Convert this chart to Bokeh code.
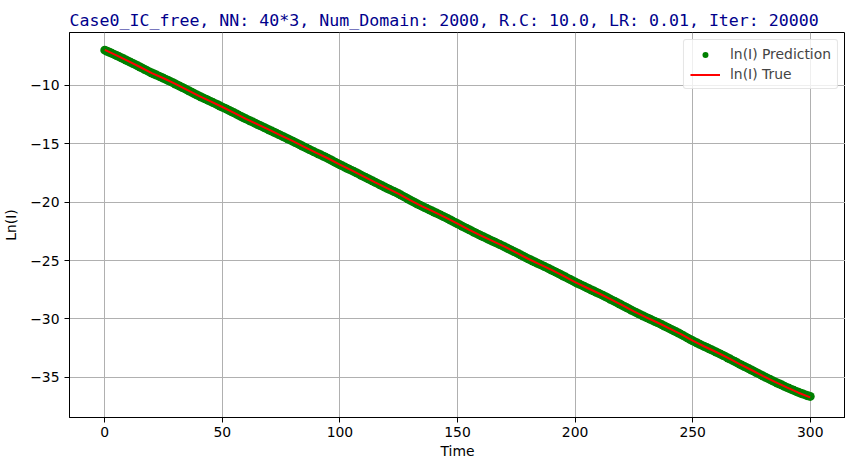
import numpy as np
from bokeh.plotting import figure
from bokeh.models import (ColumnDataSource, Range1d, Legend, LegendItem,
                          FixedTicker, CustomJSTickFormatter)
from bokeh.embed import file_html
from bokeh.resources import INLINE

title_text = "Case0_IC_free, NN: 40*3, Num_Domain: 2000, R.C: 10.0, LR: 0.01, Iter: 20000"

# True ln(I), sampled every 5 time units from 0 to 300
true_time = np.arange(0, 301, 5)
true_lnI = [
    -7.00, -7.47, -7.95, -8.46, -8.98, -9.42, -9.90, -10.42, -10.93, -11.40,
    -11.88, -12.38, -12.90, -13.36, -13.84, -14.32, -14.80, -15.30, -15.80, -16.28,
    -16.80, -17.30, -17.80, -18.32, -18.82, -19.30, -19.86, -20.38, -20.85, -21.33,
    -21.85, -22.38, -22.88, -23.35, -23.82, -24.33, -24.85, -25.33, -25.80, -26.32,
    -26.85, -27.33, -27.80, -28.30, -28.82, -29.35, -29.84, -30.30, -30.80, -31.30,
    -31.85, -32.35, -32.82, -33.32, -33.85, -34.36, -34.88, -35.38, -35.85, -36.30,
    -36.70,
]

# Predicted ln(I), every time unit from 0 to 300
pred_time = np.arange(0, 301, 1)
pred_lnI = [
    -7.02, -7.11, -7.20, -7.29, -7.38, -7.48, -7.57, -7.67, -7.76, -7.86,
    -7.96, -8.06, -8.16, -8.26, -8.36, -8.46, -8.56, -8.67, -8.77, -8.88,
    -8.97, -9.06, -9.15, -9.24, -9.33, -9.43, -9.52, -9.61, -9.71, -9.80,
    -9.91, -10.01, -10.11, -10.21, -10.31, -10.42, -10.52, -10.62, -10.73, -10.83,
    -10.93, -11.02, -11.12, -11.21, -11.31, -11.40, -11.50, -11.59, -11.69, -11.79,
    -11.89, -11.98, -12.08, -12.18, -12.28, -12.38, -12.48, -12.59, -12.69, -12.80,
    -12.89, -12.98, -13.08, -13.17, -13.27, -13.37, -13.46, -13.56, -13.65, -13.75,
    -13.85, -13.94, -14.04, -14.13, -14.23, -14.33, -14.42, -14.52, -14.61, -14.71,
    -14.81, -14.91, -15.01, -15.11, -15.21, -15.31, -15.41, -15.51, -15.61, -15.71,
    -15.80, -15.90, -15.99, -16.09, -16.18, -16.29, -16.39, -16.50, -16.60, -16.71,
    -16.81, -16.91, -17.01, -17.11, -17.21, -17.30, -17.40, -17.50, -17.60, -17.71,
    -17.81, -17.91, -18.01, -18.11, -18.21, -18.31, -18.41, -18.52, -18.62, -18.72,
    -18.82, -18.91, -19.01, -19.10, -19.20, -19.30, -19.41, -19.52, -19.63, -19.74,
    -19.85, -19.96, -20.06, -20.17, -20.27, -20.37, -20.47, -20.56, -20.66, -20.75,
    -20.85, -20.94, -21.04, -21.14, -21.24, -21.34, -21.44, -21.54, -21.65, -21.75,
    -21.86, -21.96, -22.07, -22.17, -22.27, -22.37, -22.47, -22.58, -22.68, -22.78,
    -22.88, -22.97, -23.07, -23.16, -23.26, -23.35, -23.44, -23.54, -23.63, -23.73,
    -23.83, -23.93, -24.03, -24.13, -24.23, -24.33, -24.43, -24.54, -24.64, -24.75,
    -24.85, -24.94, -25.04, -25.13, -25.23, -25.33, -25.42, -25.52, -25.61, -25.71,
    -25.81, -25.91, -26.01, -26.11, -26.22, -26.32, -26.42, -26.53, -26.63, -26.74,
    -26.84, -26.94, -27.04, -27.13, -27.23, -27.33, -27.42, -27.52, -27.61, -27.71,
    -27.80, -27.90, -28.00, -28.10, -28.20, -28.31, -28.41, -28.51, -28.62, -28.72,
    -28.83, -28.93, -29.04, -29.14, -29.25, -29.35, -29.45, -29.55, -29.65, -29.74,
    -29.84, -29.93, -30.02, -30.12, -30.21, -30.30, -30.40, -30.50, -30.60, -30.70,
    -30.80, -30.90, -31.00, -31.10, -31.20, -31.31, -31.42, -31.53, -31.64, -31.75,
    -31.86, -31.96, -32.06, -32.16, -32.26, -32.35, -32.44, -32.54, -32.63, -32.73,
    -32.82, -32.92, -33.02, -33.12, -33.22, -33.33, -33.43, -33.54, -33.64, -33.75,
    -33.86, -33.96, -34.06, -34.16, -34.26, -34.36, -34.46, -34.57, -34.67, -34.78,
    -34.88, -34.98, -35.08, -35.18, -35.28, -35.38, -35.47, -35.56, -35.65, -35.75,
    -35.85, -35.93, -36.02, -36.10, -36.19, -36.27, -36.35, -36.42, -36.49, -36.56,
    -36.62,
]

x_ticks = [0, 50, 100, 150, 200, 250, 300]
y_ticks = [-35, -30, -25, -20, -15, -10]

FONT = "DejaVu Sans"

p = figure(width=845, height=461, output_backend="svg", toolbar_location=None,
           x_range=Range1d(-15, 315), y_range=Range1d(-38.42, -5.51),
           min_border_left=61, min_border_right=0, min_border_top=25,
           min_border_bottom=40)

p.title.text = title_text
p.title.text_font = "DejaVu Sans Mono"
p.title.text_font_size = "16.6px"
p.title.text_font_style = "normal"
p.title.text_color = "#00008B"
p.title.align = "left"
p.title.offset = 0
p.title.standoff = 6
p.title.padding = dict(left=0, right=0, top=5, bottom=0)

p.outline_line_color = "black"
p.outline_line_width = 1
p.outline_line_alpha = 1

for ax in (p.xaxis[0], p.yaxis[0]):
    ax.axis_line_color = "black"
    ax.major_tick_line_color = "black"
    ax.major_tick_out = 5
    ax.major_tick_in = 0
    ax.minor_tick_line_color = None
    ax.major_label_text_font = FONT
    ax.major_label_text_font_size = "13.9px"
    ax.major_label_text_color = "black"
    ax.axis_label_text_font = FONT
    ax.axis_label_text_font_size = "13.9px"
    ax.axis_label_text_font_style = "normal"
    ax.axis_label_text_color = "black"

p.xaxis.major_label_standoff = 4
p.yaxis.major_label_standoff = 5
p.xaxis.ticker = FixedTicker(ticks=x_ticks)
p.yaxis.ticker = FixedTicker(ticks=y_ticks)
p.yaxis.formatter = CustomJSTickFormatter(code="return tick.toString().replace('-', '\u2212');")
p.xaxis.axis_label = "Time"
p.yaxis.axis_label = "Ln(I)"
p.xaxis.axis_label_standoff = 3
p.yaxis.axis_label_standoff = 8

p.grid.grid_line_color = "#b0b0b0"
p.grid.grid_line_width = 1

pred_src = ColumnDataSource(dict(t=pred_time, v=pred_lnI))
true_src = ColumnDataSource(dict(t=true_time, v=true_lnI))

p.scatter("t", "v", source=pred_src, size=9, color="green", line_color=None)
p.line("t", "v", source=true_src, line_color="red", line_width=2)

# legend proxies (kept outside the visible ranges)
dot_proxy = ColumnDataSource(dict(t=[-1000], v=[-1000]))
line_proxy = ColumnDataSource(dict(t=[-1000, -999], v=[-1000, -1000]))
leg_dot = p.scatter("t", "v", source=dot_proxy, size=5, color="green", line_color=None)
leg_line = p.line("t", "v", source=line_proxy, line_color="red", line_width=2)

legend = Legend(items=[LegendItem(label="ln(I) Prediction", renderers=[leg_dot]),
                       LegendItem(label="ln(I) True", renderers=[leg_line])],
                location="top_right")
legend.label_text_font = FONT
legend.label_text_font_size = "13.9px"
legend.glyph_width = 30
legend.glyph_height = 15
legend.label_height = 15
legend.label_standoff = 10
legend.spacing = 4
legend.padding = 6
legend.margin = 7
legend.border_line_color = "#cccccc"
legend.border_line_width = 1
legend.border_radius = 3
legend.background_fill_alpha = 0.8
p.add_layout(legend)

open("out.html", "w").write(file_html(p, INLINE))
